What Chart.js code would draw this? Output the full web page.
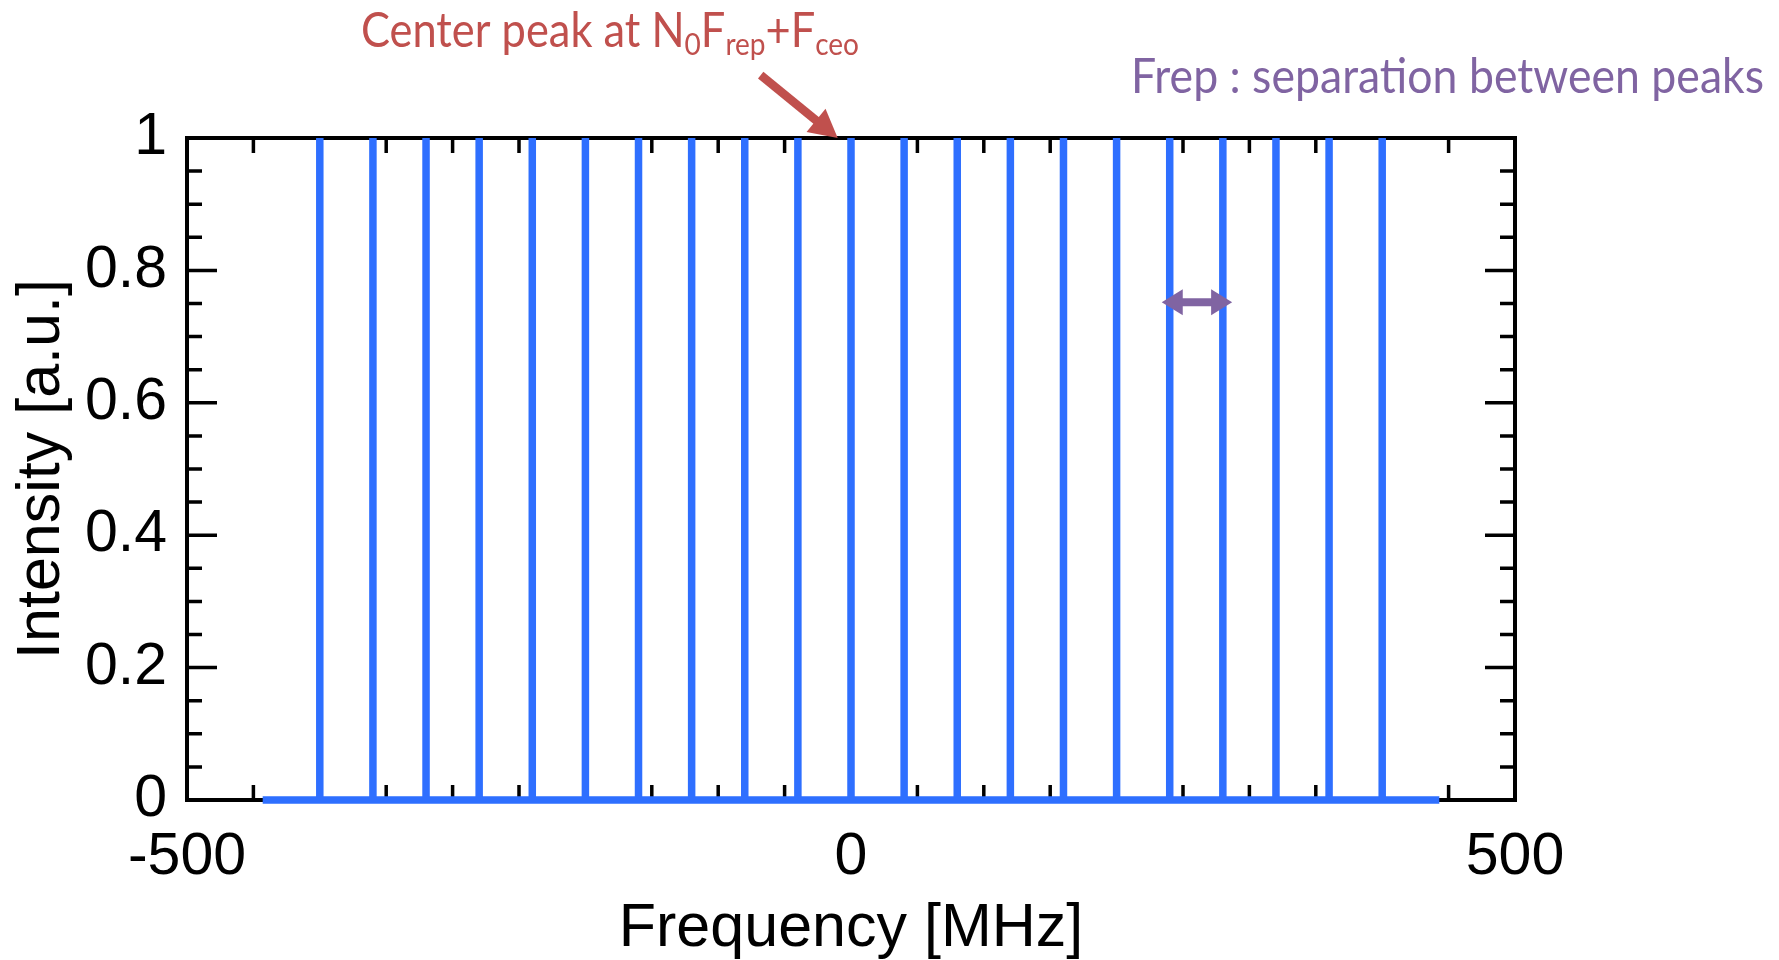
<!DOCTYPE html>
<html lang="en">
<head>
<meta charset="UTF-8">
<title>Frequency comb</title>
<script src="https://cdn.jsdelivr.net/npm/chart.js"></script>
<style>
  html, body { margin: 0; padding: 0; background: #fff; }
  #wrap { width: 1779px; height: 960px; }
</style>
</head>
<body>
<div id="wrap"><canvas id="combChart"></canvas></div>
<script>
// comb lines, MHz
const peakFreqs = [-400, -360, -320, -280, -240, -200, -160, -120, -80, -40, 0,
                   40, 80, 120, 160, 200, 240, 280, 320, 360, 400];
const peakIntensity = [1, 1, 1, 1, 1, 1, 1, 1, 1, 1, 1,
                       1, 1, 1, 1, 1, 1, 1, 1, 1, 1];
const baseRange = [-443, 443];   // where the zero line starts / stops
const xTicks = [-500, 0, 500];
const yTicks = [0, 0.2, 0.4, 0.6, 0.8, 1];

// annotation anchors (data units)
const centerArrow = { from: [-68, 1.095], to: [-10, 1.0] };
const frepArrow = { from: [234, 0.752], to: [287, 0.752] };

const BLUE = '#2E6FFF';
const RED = '#C0504D';
const PURPLE = '#8064A2';

// build the spike trace from the comb arrays
const trace = [{ x: baseRange[0], y: 0 }];
peakFreqs.forEach((f, i) => {
    trace.push({ x: f, y: 0 });
    trace.push({ x: f, y: peakIntensity[i] });
    trace.push({ x: f, y: 0 });
});
trace.push({ x: baseRange[1], y: 0 });

// frame + inward ticks (igor style)
const framePlugin = {
    id: 'frame',
    beforeDatasetsDraw(chart) {
        const { ctx, chartArea: a, scales } = chart;
        const xs = scales.x, ys = scales.y;
        ctx.save();
        ctx.strokeStyle = '#000';
        ctx.lineWidth = 4;
        ctx.strokeRect(a.left, a.top, a.right - a.left, a.bottom - a.top);
        ctx.lineWidth = 3.5;
        ctx.beginPath();
        for (let v = -500; v <= 500; v += 50) {
            const px = xs.getPixelForValue(v);
            const len = v % 500 === 0 ? 30 : 15;
            ctx.moveTo(px, a.bottom); ctx.lineTo(px, a.bottom - len);
            ctx.moveTo(px, a.top); ctx.lineTo(px, a.top + len);
        }
        for (let i = 0; i <= 20; i++) {
            const py = ys.getPixelForValue(i * 0.05);
            const len = i % 4 === 0 ? 30 : 15;
            ctx.moveTo(a.left, py); ctx.lineTo(a.left + len, py);
            ctx.moveTo(a.right, py); ctx.lineTo(a.right - len, py);
        }
        ctx.stroke();
        ctx.restore();
    }
};

function drawRich(ctx, parts, x, y, size, color, targetWidth) {
    const fam = 'Lato, "Noto Sans", sans-serif';
    let w = 0;
    parts.forEach(p => {
        ctx.font = (p.sub ? Math.round(size * 0.64) : size) + 'px ' + fam;
        p.w = ctx.measureText(p.t).width;
        w += p.w;
    });
    ctx.save();
    ctx.translate(x, y);
    ctx.scale(targetWidth / w, 1);
    ctx.fillStyle = color;
    ctx.textBaseline = 'alphabetic';
    let cx = 0;
    parts.forEach(p => {
        ctx.font = (p.sub ? Math.round(size * 0.64) : size) + 'px ' + fam;
        ctx.fillText(p.t, cx, p.sub ? 8 : 0);
        cx += p.w;
    });
    ctx.restore();
}

function arrowHead(ctx, x, y, ang, len, half) {
    ctx.beginPath();
    ctx.moveTo(x, y);
    ctx.lineTo(x - len * Math.cos(ang) + half * Math.sin(ang), y - len * Math.sin(ang) - half * Math.cos(ang));
    ctx.lineTo(x - len * Math.cos(ang) - half * Math.sin(ang), y - len * Math.sin(ang) + half * Math.cos(ang));
    ctx.closePath();
    ctx.fill();
}

const notesPlugin = {
    id: 'notes',
    afterDraw(chart) {
        const { ctx, scales } = chart;
        const xs = scales.x, ys = scales.y;

        drawRich(ctx, [
            { t: 'Center peak at N' }, { t: '0', sub: true }, { t: 'F' },
            { t: 'rep', sub: true }, { t: '+F' }, { t: 'ceo', sub: true }
        ], 361, 47, 48, RED, 498);
        drawRich(ctx, [{ t: 'Frep : separation between peaks' }], 1131, 93, 48, PURPLE, 633);

        ctx.save();
        // red arrow
        let x1 = xs.getPixelForValue(centerArrow.from[0]), y1 = ys.getPixelForValue(centerArrow.from[1]);
        let x2 = xs.getPixelForValue(centerArrow.to[0]), y2 = ys.getPixelForValue(centerArrow.to[1]);
        let ang = Math.atan2(y2 - y1, x2 - x1);
        ctx.strokeStyle = RED; ctx.fillStyle = RED; ctx.lineWidth = 8.5;
        ctx.beginPath();
        ctx.moveTo(x1, y1);
        ctx.lineTo(x2 - 22 * Math.cos(ang), y2 - 22 * Math.sin(ang));
        ctx.stroke();
        arrowHead(ctx, x2, y2, ang, 28, 15);

        // purple double arrow
        x1 = xs.getPixelForValue(frepArrow.from[0]); y1 = ys.getPixelForValue(frepArrow.from[1]);
        x2 = xs.getPixelForValue(frepArrow.to[0]); y2 = ys.getPixelForValue(frepArrow.to[1]);
        ctx.strokeStyle = PURPLE; ctx.fillStyle = PURPLE; ctx.lineWidth = 8;
        ctx.beginPath();
        ctx.moveTo(x1 + 16, y1); ctx.lineTo(x2 - 16, y2);
        ctx.stroke();
        arrowHead(ctx, x2, y2, 0, 21, 13);
        arrowHead(ctx, x1, y1, Math.PI, 21, 13);
        ctx.restore();
    }
};

const tickFont = { family: '"Liberation Sans", Arial, sans-serif', size: 59 };
const titleFont = { family: '"Liberation Sans", Arial, sans-serif', size: 61, lineHeight: 1.0 };

new Chart(document.getElementById('combChart'), {
    type: 'line',
    data: {
        datasets: [{
            data: trace,
            borderColor: BLUE,
            borderWidth: 7.5,
            pointRadius: 0,
            tension: 0,
            borderJoinStyle: 'bevel',
            clip: false
        }]
    },
    options: {
        responsive: true,
        maintainAspectRatio: false,
        animation: false,
        layout: { padding: { top: 138, right: 264, left: 0, bottom: 0 } },
        plugins: { legend: { display: false }, tooltip: { enabled: false } },
        scales: {
            x: {
                type: 'linear',
                min: -500, max: 500,
                afterBuildTicks: s => { s.ticks = xTicks.map(v => ({ value: v })); },
                afterFit: s => { s.height = 160; },
                grid: { display: false, drawTicks: false },
                border: { display: false },
                ticks: { font: tickFont, color: '#000', padding: 22, maxRotation: 0 },
                title: { display: true, text: 'Frequency [MHz]', font: titleFont, color: '#000', padding: 0 }
            },
            y: {
                min: 0, max: 1,
                afterBuildTicks: s => { s.ticks = yTicks.map(v => ({ value: v })); },
                afterFit: s => { s.width = 187; },
                grid: { display: false, drawTicks: false },
                border: { display: false },
                ticks: { font: tickFont, color: '#000', padding: 20, callback: v => String(v) },
                title: { display: true, text: 'Intensity [a.u.]', font: titleFont, color: '#000', padding: { top: 12 } }
            }
        }
    },
    plugins: [framePlugin, notesPlugin]
});
</script>
</body>
</html>
